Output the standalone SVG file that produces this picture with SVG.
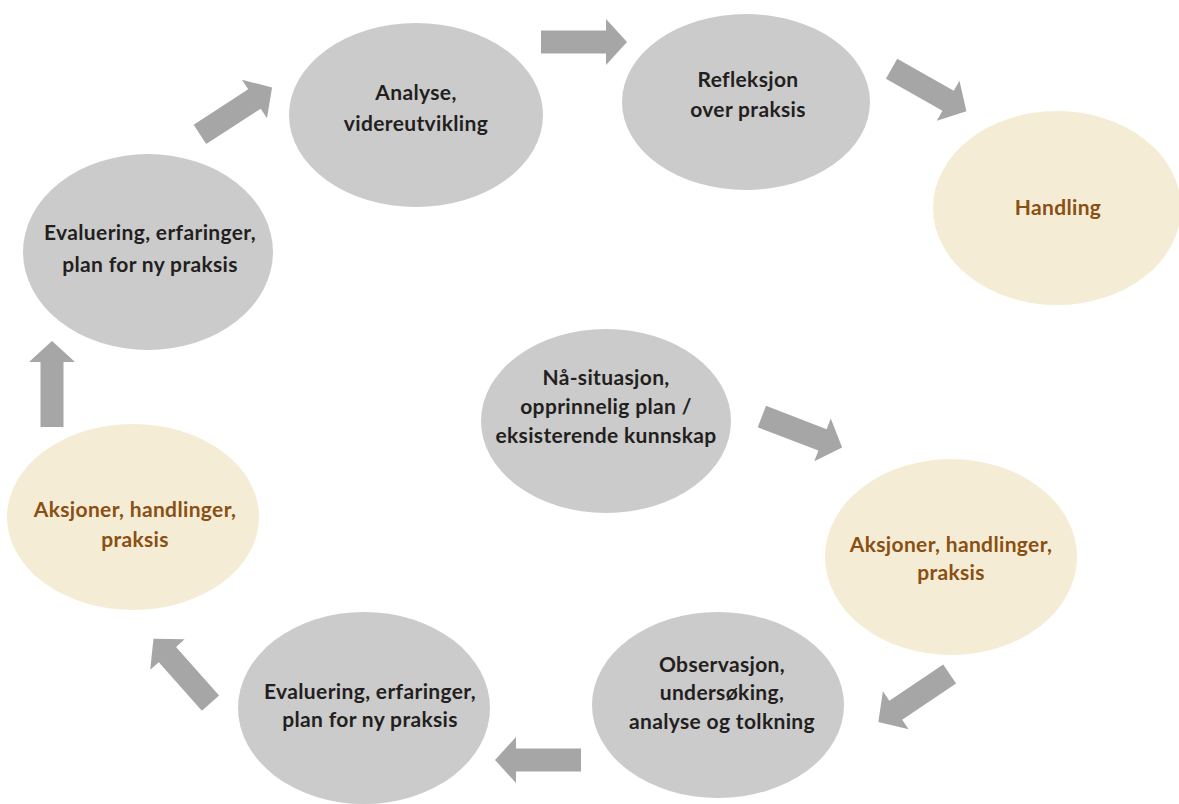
<svg xmlns="http://www.w3.org/2000/svg" width="1179" height="804" viewBox="0 0 1179 804">
<style>
.g{fill:#cbcbcb}
.b{fill:#f5ecd5}
.t{font-family:Lato,"Open Sans",sans-serif;font-weight:bold;font-size:21px;letter-spacing:0.35px;text-anchor:middle;fill:#231f20}
.tb{fill:#8a4f12}
.a{fill:#a6a6a6}
</style>
<defs>
<path id="arr" d="M-43,-11.5 L22,-11.5 L22,-23 L43,0 L22,23 L22,11.5 L-43,11.5 Z"/>
</defs>
<rect width="1179" height="804" fill="#fff"/>
<g id="connectors">
<use href="#arr" class="a" transform="translate(236,111) rotate(-33)"/>
<use href="#arr" class="a" transform="translate(584,42)"/>
<use href="#arr" class="a" transform="translate(929,90) rotate(29.5)"/>
<use href="#arr" class="a" transform="translate(802,432) rotate(21)"/>
<use href="#arr" class="a" transform="translate(914,698) rotate(146)"/>
<use href="#arr" class="a" transform="translate(538,760) rotate(180)"/>
<use href="#arr" class="a" transform="translate(182,671) rotate(-131.5)"/>
<use href="#arr" class="a" transform="translate(52,384) rotate(-90)"/>
</g>
<g id="n-analyse">
<ellipse class="g" cx="416" cy="115" rx="127" ry="92"/>
<text class="t" x="416" y="100">Analyse,</text>
<text class="t" x="416" y="131">videreutvikling</text>
</g>
<g id="n-refleksjon">
<ellipse class="g" cx="746" cy="102" rx="124" ry="88"/>
<text class="t" x="748" y="87">Refleksjon</text>
<text class="t" x="748" y="117">over praksis</text>
</g>
<g id="n-handling">
<ellipse class="b" cx="1057" cy="208" rx="124" ry="97"/>
<text class="t tb" x="1058" y="215">Handling</text>
</g>
<g id="n-evaluering-top">
<ellipse class="g" cx="148" cy="252" rx="125" ry="98"/>
<text class="t" x="150" y="240">Evaluering, erfaringer,</text>
<text class="t" x="150" y="272">plan for ny praksis</text>
</g>
<g id="n-naa">
<ellipse class="g" cx="606" cy="421" rx="125" ry="92"/>
<text class="t" x="606" y="385">Nå-situasjon,</text>
<text class="t" x="606" y="414">opprinnelig plan /</text>
<text class="t" x="606" y="443">eksisterende kunnskap</text>
</g>
<g id="n-aksjoner-right">
<ellipse class="b" cx="951" cy="557" rx="126" ry="98"/>
<text class="t tb" x="951" y="552">Aksjoner, handlinger,</text>
<text class="t tb" x="951" y="580">praksis</text>
</g>
<g id="n-aksjoner-left">
<ellipse class="b" cx="133" cy="517" rx="126" ry="93"/>
<text class="t tb" x="135" y="517">Aksjoner, handlinger,</text>
<text class="t tb" x="135" y="547">praksis</text>
</g>
<g id="n-evaluering-bottom">
<ellipse class="g" cx="364" cy="708" rx="126" ry="96"/>
<text class="t" x="370" y="699">Evaluering, erfaringer,</text>
<text class="t" x="370" y="727">plan for ny praksis</text>
</g>
<g id="n-observasjon">
<ellipse class="g" cx="718" cy="705" rx="126" ry="93"/>
<text class="t" x="722" y="672">Observasjon,</text>
<text class="t" x="722" y="700">undersøking,</text>
<text class="t" x="722" y="729">analyse og tolkning</text>
</g>
</svg>
